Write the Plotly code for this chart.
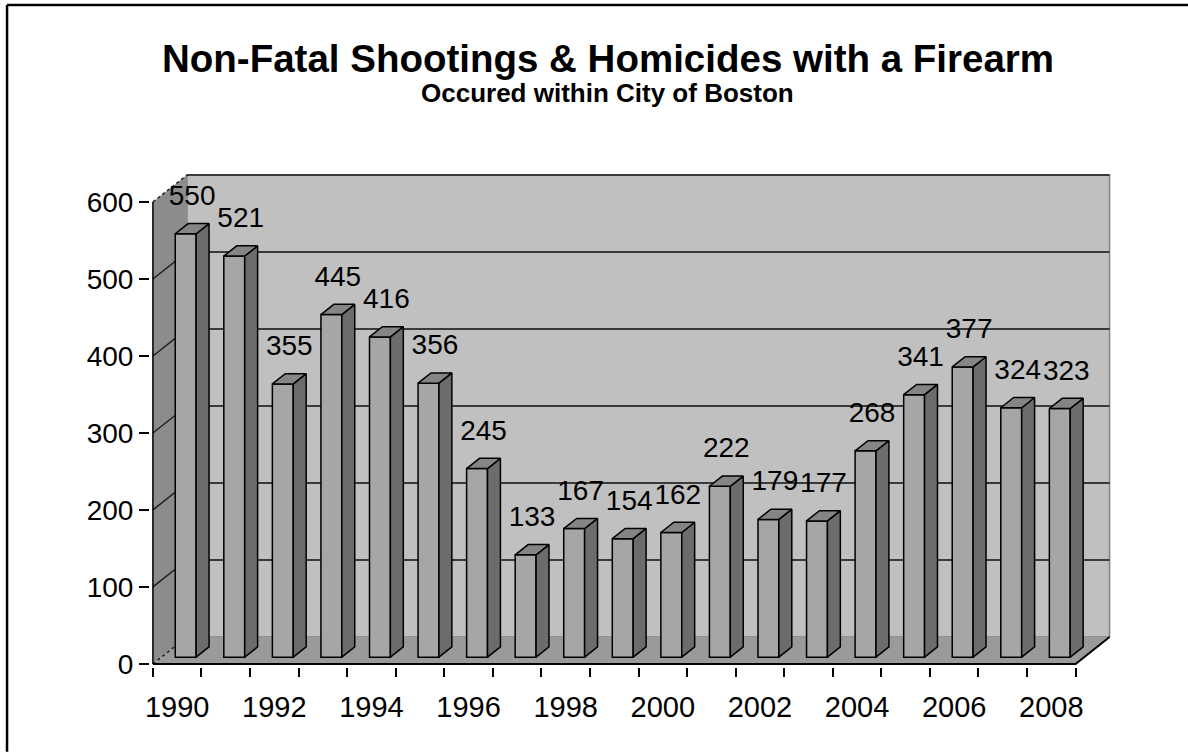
import plotly.graph_objects as go

# Boston non-fatal shootings & firearm homicides per year
years = list(range(1990, 2009))
shootings = [550, 521, 355, 445, 416, 356, 245, 133, 167, 154,
             162, 222, 179, 177, 268, 341, 377, 324, 323]
y_ticks = [0, 100, 200, 300, 400, 500, 600]
year_labels = [str(y) for y in years[::2]]

# oblique "3-D" projection: depth offset of the back wall in axis units
DX, DY = 0.70, 35.0
F0, F1 = 0.25, 0.63          # front / back depth of each bar (fraction of depth)
HALF_W = 0.215               # half width of a bar's front face
WALL_TOP = y_ticks[-1]
N = len(years)
idx = list(range(N))
LEFT, RIGHT = -0.5, N - 0.5

FONT = "Liberation Sans, Arial, sans-serif"


def path(points):
    return "M " + " L ".join(f"{x},{y}" for x, y in points) + " Z"


def seg(p, q):
    return f"M {p[0]},{p[1]} L {q[0]},{q[1]}"


shapes = []
# back wall
shapes.append(dict(type="path", xref="x", yref="y", layer="below",
                   path=path([(LEFT + DX, DY), (RIGHT + DX, DY),
                              (RIGHT + DX, WALL_TOP + DY), (LEFT + DX, WALL_TOP + DY)]),
                   fillcolor="#c0c0c0", line=dict(color="#808080", width=1.5)))
# side wall
shapes.append(dict(type="path", xref="x", yref="y", layer="below",
                   path=path([(LEFT, 0), (LEFT, WALL_TOP),
                              (LEFT + DX, WALL_TOP + DY), (LEFT + DX, DY)]),
                   fillcolor="#8c8c8c", line=dict(width=0)))
# floor
shapes.append(dict(type="path", xref="x", yref="y", layer="below",
                   path=path([(LEFT, 0), (RIGHT, 0), (RIGHT + DX, DY), (LEFT + DX, DY)]),
                   fillcolor="#9a9a9a", line=dict(width=0)))
# gridlines on back wall and side wall
for k in y_ticks[1:]:
    shapes.append(dict(type="path", xref="x", yref="y", layer="below",
                       path=seg((LEFT + DX, k + DY), (RIGHT + DX, k + DY)),
                       line=dict(color="#3a3a3a", width=2)))
for k in y_ticks:
    dash = "dot" if k in (0, WALL_TOP) else "solid"
    shapes.append(dict(type="path", xref="x", yref="y", layer="below",
                       path=seg((LEFT, k), (LEFT + DX, k + DY)),
                       line=dict(color="#202020", width=1.5, dash=dash)))
# front-left edge of side wall and front/right edges of floor
shapes.append(dict(type="path", xref="x", yref="y", layer="below",
                   path=seg((LEFT, 0), (LEFT, WALL_TOP)),
                   line=dict(color="#000000", width=1.5)))
shapes.append(dict(type="path", xref="x", yref="y", layer="below",
                   path=f"M {LEFT},0 L {RIGHT},0 L {RIGHT + DX},{DY}",
                   line=dict(color="#000000", width=2)))
# outer frame: top and left edges, kept inside the page
FRAME_X, FRAME_Y = -0.1486, 1.3374
shapes.append(dict(type="line", xref="paper", yref="paper",
                   x0=FRAME_X, x1=1.079, y0=FRAME_Y, y1=FRAME_Y,
                   line=dict(color="#000000", width=2.5)))
shapes.append(dict(type="line", xref="paper", yref="paper",
                   x0=FRAME_X, x1=FRAME_X, y0=-0.171, y1=FRAME_Y,
                   line=dict(color="#000000", width=2.5)))

fig = go.Figure()

# front faces of the bars
fig.add_trace(go.Bar(
    x=[i + F0 * DX for i in idx], y=shootings, base=F0 * DY,
    width=2 * HALF_W,
    marker=dict(color="#a6a6a6", line=dict(color="#000000", width=1.5)),
    hoverinfo="skip", showlegend=False))

# side faces
sx, sy = [], []
for i, v in zip(idx, shootings):
    r = i + HALF_W
    sx += [r + F0 * DX, r + F1 * DX, r + F1 * DX, r + F0 * DX, r + F0 * DX, None]
    sy += [F0 * DY, F1 * DY, v + F1 * DY, v + F0 * DY, F0 * DY, None]
fig.add_trace(go.Scatter(x=sx, y=sy, mode="lines", fill="toself",
                         fillcolor="#6c6c6c", line=dict(color="#000000", width=1.5),
                         hoverinfo="skip", showlegend=False))

# top faces
tx, ty = [], []
for i, v in zip(idx, shootings):
    l, r = i - HALF_W, i + HALF_W
    tx += [l + F0 * DX, r + F0 * DX, r + F1 * DX, l + F1 * DX, l + F0 * DX, None]
    ty += [v + F0 * DY, v + F0 * DY, v + F1 * DY, v + F1 * DY, v + F0 * DY, None]
fig.add_trace(go.Scatter(x=tx, y=ty, mode="lines", fill="toself",
                         fillcolor="#858585", line=dict(color="#000000", width=1.5),
                         hoverinfo="skip", showlegend=False))

# value labels above each bar
FM = (F0 + F1) / 2
fig.add_trace(go.Scatter(
    x=[i + FM * DX for i in idx], y=[v + FM * DY + 40 for v in shootings],
    mode="text", text=[str(v) for v in shootings], textposition="middle center",
    textfont=dict(family=FONT, size=28, color="#000000"),
    cliponaxis=False, hoverinfo="skip", showlegend=False))

fig.update_layout(
    width=1188, height=752,
    margin=dict(l=150, r=76, t=172, b=85),
    paper_bgcolor="#ffffff", plot_bgcolor="#ffffff",
    shapes=shapes,
    showlegend=False,
    font=dict(family=FONT, color="#000000"),
    xaxis=dict(range=[-0.56, 19.25], tickmode="array",
               tickvals=idx[::2], ticktext=year_labels,
               ticks="", showgrid=False, zeroline=False, showline=False,
               ticklabelstandoff=20,
               tickfont=dict(family=FONT, size=29, color="#000000"),
               minor=dict(tickmode="array", tickvals=[LEFT + k for k in range(N + 1)],
                          ticks="outside", ticklen=9, tickwidth=1.5, tickcolor="#000000",
                          showgrid=False)),
    yaxis=dict(range=[-4, 639], tickmode="array", tickvals=y_ticks,
               ticks="outside", ticklen=10, tickwidth=1.5, tickcolor="#000000",
               showgrid=False, zeroline=False, showline=False,
               tickfont=dict(family=FONT, size=28, color="#000000")),
    annotations=[
        dict(text="<b>Non-Fatal Shootings & Homicides with a Firearm</b>",
             xref="paper", yref="paper", x=0.476, y=1.2303,
             xanchor="center", yanchor="middle", showarrow=False,
             font=dict(family=FONT, size=38.5, color="#000000")),
        dict(text="<b>Occured within City of Boston</b>",
             xref="paper", yref="paper", x=0.4756, y=1.1586,
             xanchor="center", yanchor="middle", showarrow=False,
             font=dict(family=FONT, size=26, color="#000000")),
    ],
)

fig.write_html("out.html")
